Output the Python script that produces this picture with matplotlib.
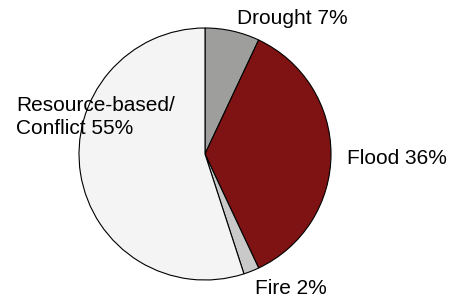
import matplotlib
matplotlib.use("Agg")
import matplotlib.pyplot as plt

# ── data ──────────────────────────────────────────────
labels = ["Drought 7%", "Flood 36%", "Fire 2%", "Resource-based/\nConflict 55%"]
shares = [7, 36, 2, 55]
colors = ["#9e9e9c", "#7f1313", "#c9c9c9", "#f4f4f4"]

plt.rcParams["font.family"] = ["Liberation Sans", "DejaVu Sans"]

fig = plt.figure(figsize=(4.5, 2.97), dpi=100)
ax = fig.add_axes([0, 0, 1, 1])
ax.axis("off")

ax.pie(shares, colors=colors, startangle=90, counterclock=False,
       center=(205, 297 - 154), radius=126,
       wedgeprops=dict(edgecolor="black", linewidth=0.8))
ax.set_xlim(0, 450)
ax.set_ylim(0, 297)
ax.set_aspect("auto")

# label positions (pixel coords, y from top)
ax.text(237, 297 - 18, labels[0], fontsize=15, va="center", ha="left")
ax.text(347, 297 - 158, labels[1], fontsize=15, va="center", ha="left")
ax.text(255, 297 - 288, labels[2], fontsize=15, va="center", ha="left")
ax.text(16, 297 - 117, labels[3], fontsize=15, va="center", ha="left",
        linespacing=1.3)

fig.savefig("out.png", dpi=100)
